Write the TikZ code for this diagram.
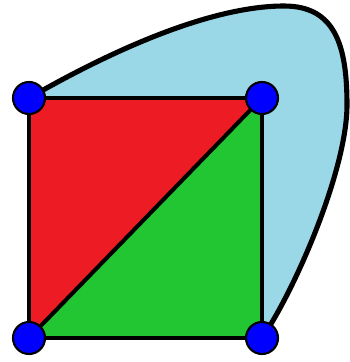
\documentclass[tikz,border=0pt]{standalone}
\usepackage{tikz}
\definecolor{fillred}{HTML}{ED1C24}
\definecolor{fillgreen}{HTML}{22C532}
\definecolor{fillsky}{HTML}{9AD8E8}
\definecolor{dotblue}{HTML}{0000FF}
\tikzset{
  vertex/.style = {circle, draw=black, line width=1.2pt, fill=dotblue,
                   minimum size=0.64cm, inner sep=0pt},
  edge/.style   = {line width=2.3pt, line cap=round},
  outer/.style  = {line width=2.9pt, line cap=round},
}
\begin{document}
\begin{tikzpicture}[x=0.02cm, y=-0.02cm]
    \useasboundingbox (0,0) rectangle (350,362);
    % corners of the square
    \coordinate (ptl) at (29,98);
    \coordinate (ptr) at (262,98);
    \coordinate (pbl) at (29,338);
    \coordinate (pbr) at (262,338);
    \coordinate (ptop) at (284,6);
    \coordinate (pright) at (347,105);

    % faces
    \fill[fillsky] (ptl) .. controls (130,40) and (220,6) .. (ptop)
        .. controls (335,6) and (347,45) .. (pright)
        .. controls (347,170) and (295,290) .. (pbr) -- (ptr) -- cycle;
    \fill[fillred]   (ptl) -- (ptr) -- (pbl) -- cycle;
    \fill[fillgreen] (ptr) -- (pbr) -- (pbl) -- cycle;

    % outer edge
    \draw[outer] (ptl) .. controls (130,40) and (220,6) .. (ptop)
        .. controls (335,6) and (347,45) .. (pright)
        .. controls (347,170) and (295,290) .. (pbr);

    % vertices
    \node[vertex] (tl) at (ptl) {};
    \node[vertex] (tr) at (ptr) {};
    \node[vertex] (bl) at (pbl) {};
    \node[vertex] (br) at (pbr) {};

    \draw[edge] (tl)--(tr);
    \draw[edge] (tr)--(br);
    \draw[edge] (br)--(bl);
    \draw[edge] (bl)--(tl);
    \draw[edge] (bl)--(tr);
\end{tikzpicture}
\end{document}
